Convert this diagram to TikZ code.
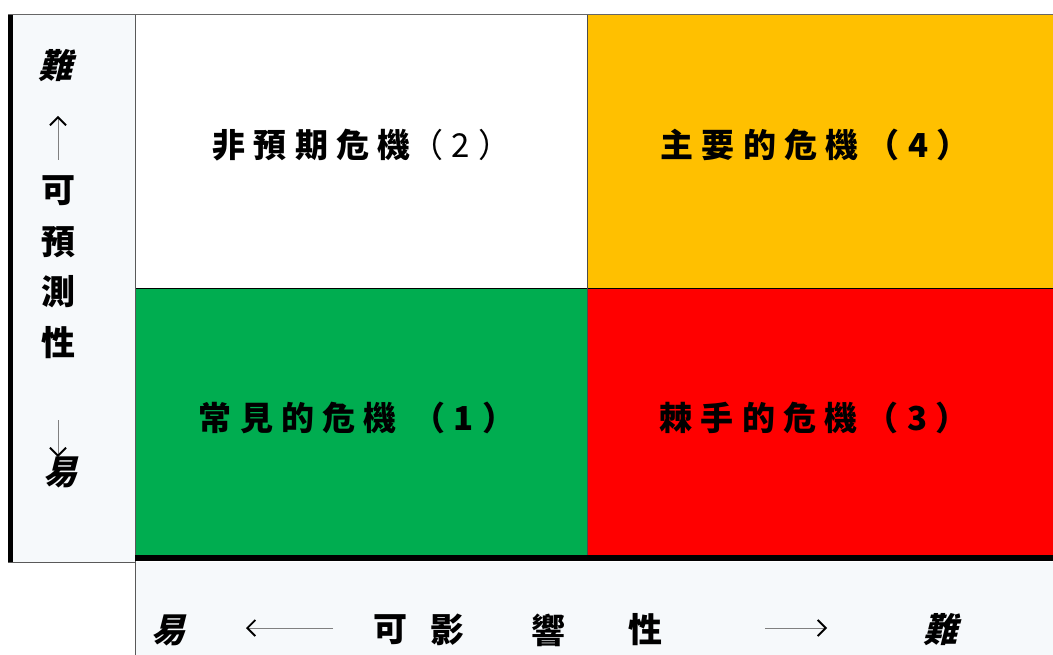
\documentclass[tikz,border=0pt]{standalone}
\usepackage{fontspec}
\usetikzlibrary{arrows.meta}
\newfontfamily\cjk{Noto Sans CJK TC}
\newfontfamily\cjkq[LetterSpace=25]{Noto Sans CJK TC}
\newfontfamily\cjkit[FakeSlant=0.25]{Noto Sans CJK TC}
\definecolor{panel}{HTML}{F6F9FB}
\definecolor{qgreen}{HTML}{00AD50}
\definecolor{qorange}{HTML}{FFC000}
\definecolor{qred}{HTML}{FF0000}
\tikzset{
  quad/.style={font=\cjkq\bfseries\fontsize{33}{33}\selectfont, inner sep=0pt},
  axch/.style={font=\cjk\bfseries\fontsize{34}{34}\selectfont, inner sep=0pt},
  axit/.style={font=\cjkit\bfseries\fontsize{34}{34}\selectfont, inner sep=0pt},
  axarrow/.style={draw=gray, line width=0.8pt, -{Straight Barb[length=8pt,width=16pt,line width=1.8pt,color=black]}}
}
\begin{document}
\begin{tikzpicture}[x=1pt,y=-1pt]
\useasboundingbox (0,0) rectangle (1053,655);
% panels
\fill[panel] (8,15) rectangle (135,562);
\fill[panel] (135,562) rectangle (1053,655);
% quadrants
\fill[white] (135,15) rectangle (587,289);
\fill[qorange] (587,15) rectangle (1053,289);
\fill[qgreen] (135,289) rectangle (587,557);
\fill[qred] (587,289) rectangle (1053,557);
% lines
\draw[gray!80!black, line width=1pt] (8,15) -- (1053,15);
\draw[black, line width=1pt] (135,289) -- (1053,289);
\draw[gray!60!black, line width=0.8pt] (587,15) -- (587,557);
\draw[gray!70!black, line width=1pt] (135,15) -- (135,655);
\draw[gray!70!black, line width=1pt] (8,562) -- (135,562);
\fill[black] (8,15) rectangle (13,562);
\fill[black] (135,555) rectangle (1053,561);
% quadrant labels
\node[quad] (q2) at (362,145) {非預期危機{\mdseries（2）}};
\node[quad] (q4) at (815,145) {主要的危機（4）};
\node[quad] (q1) at (357,418) {常見的危機 （1）};
\node[quad] (q3) at (814,418) {棘手的危機（3）};
% left axis
\node[axit] (lhard) at (55,66) {難};
\coordinate (lup1) at (58,160);
\coordinate (lup2) at (58,116);
\draw[axarrow] (lup1) -- (lup2);
\node[axch] (l1) at (58,191) {可};
\node[axch] (l2) at (58,242) {預};
\node[axch] (l3) at (58,292) {測};
\node[axch] (l4) at (58,343) {性};
\coordinate (ldn1) at (58,420);
\coordinate (ldn2) at (58,457);
\draw[axarrow] (ldn1) -- (ldn2);
\node[axit] (leasy) at (60,472) {易};
% bottom axis
\node[axit] (beasy) at (168,630) {易};
\coordinate (bl1) at (333,628);
\coordinate (bl2) at (246,628);
\draw[axarrow] (bl1) -- (bl2);
\node[axch] (b1) at (390,630) {可};
\node[axch] (b2) at (447,630) {影};
\node[axch] (b3) at (548,630) {響};
\node[axch] (b4) at (645,630) {性};
\coordinate (br1) at (765,628);
\coordinate (br2) at (827,628);
\draw[axarrow] (br1) -- (br2);
\node[axit] (bhard) at (940,630) {難};
\end{tikzpicture}
\end{document}
